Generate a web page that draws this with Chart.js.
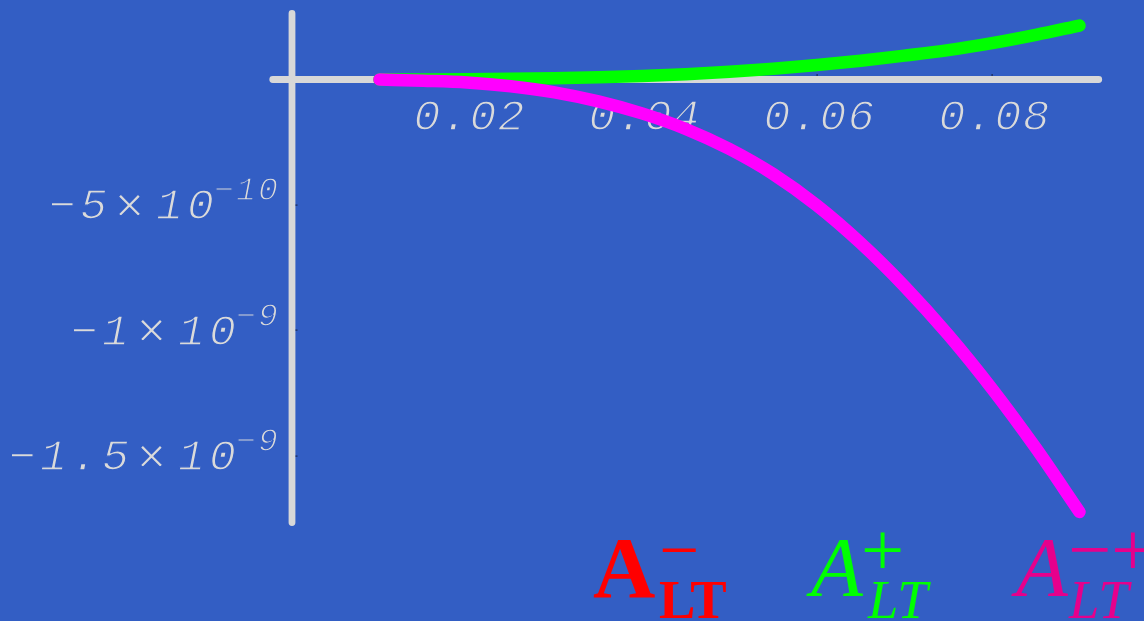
<!DOCTYPE html>
<html>
<head>
<meta charset="utf-8">
<script src="https://cdn.jsdelivr.net/npm/chart.js@4/dist/chart.umd.min.js"></script>
<style>
  html, body { margin: 0; padding: 0; background: #335EC4; overflow: hidden; }
  #wrap { width: 1144px; height: 621px; position: relative; }
  canvas { display: block; }
</style>
</head>
<body>
<div id="wrap"><canvas id="chart" width="1144" height="621"></canvas></div>
<script>
// Sample points of the two asymmetries
const xValues = [0.010, 0.015, 0.020, 0.025, 0.030, 0.035, 0.040, 0.045, 0.050,
                 0.055, 0.060, 0.065, 0.070, 0.075, 0.080, 0.085, 0.090];
const aLTPlus = [0, 0.0003e-9, 0.001e-9, 0.0025e-9, 0.005e-9, 0.009e-9, 0.014e-9, 0.021e-9, 0.031e-9,
                 0.043e-9, 0.058e-9, 0.075e-9, 0.095e-9, 0.117e-9, 0.145e-9, 0.178e-9, 0.215e-9];
const aLTMinusPlus = [0, -0.005e-9, -0.012e-9, -0.027e-9, -0.051e-9, -0.087e-9, -0.135e-9, -0.197e-9, -0.277e-9,
                      -0.377e-9, -0.502e-9, -0.652e-9, -0.824e-9, -1.017e-9, -1.232e-9, -1.468e-9, -1.723e-9];

// Axis ticks
const xTicks = [0.02, 0.04, 0.06, 0.08];
const xTickLabels = ['0.02', '0.04', '0.06', '0.08'];
const yTicks = [-5e-10, -1e-9, -1.5e-9];
const yTickMantissas = ['\u22125', '\u22121', '\u22121.5'];
const yTickExponents = ['\u221210', '\u22129', '\u22129'];

// Legend formulas: symbol, superscript, subscript
const legendSymbols = ['A', 'A', 'A'];
const legendSups = ['\u2212', '+', '\u2212+'];
const legendSubs = ['LT', 'LT', 'LT'];

// Plot range and drawn axis extents
const X_RANGE = [-0.033371, 0.097371];
const Y_RANGE = [-2.1574e-9, 3.1673e-10];
const X_AXIS_SPAN = [-0.0022, 0.0922];
const Y_AXIS_SPAN = [-1.765e-9, 0.263e-9];

const COLORS = {
  background: '#335EC4',
  axis: '#D8D8D8',
  tickText: '#DADADA',
  tickMark: '#1a2a55',
  plus: '#00FF00',
  minusPlus: '#FF00FF',
  legend: ['#FF0000', '#00FF00', '#E6008C']
};

const MONO = '"Liberation Mono", "DejaVu Sans Mono", monospace';
const SERIF = '"Liberation Serif", "DejaVu Serif", serif';

function sizeForInk(ctx, style, family, sample, ink, useWidth) {
  ctx.font = style + ' 100px ' + family;
  const m = ctx.measureText(sample);
  const dim = useWidth ? (m.actualBoundingBoxLeft + m.actualBoundingBoxRight)
                       : (m.actualBoundingBoxAscent + m.actualBoundingBoxDescent);
  return 100 * ink / dim;
}

// Draw text so its ink box starts at (left, top)
function drawInk(ctx, text, font, left, top) {
  ctx.font = font;
  ctx.textAlign = 'left';
  ctx.textBaseline = 'alphabetic';
  const m = ctx.measureText(text);
  ctx.fillText(text, left + m.actualBoundingBoxLeft, top + m.actualBoundingBoxAscent);
}

// Light-weight glyph: fill, then shave the outline with the background colour
function thinText(ctx, ch, x, y) {
  ctx.fillText(ch, x, y);
  ctx.save();
  ctx.strokeStyle = COLORS.background;
  ctx.lineWidth = 1.3;
  ctx.lineJoin = 'round';
  ctx.strokeText(ch, x, y);
  ctx.restore();
}

// Draw text one character per fixed-width cell
function drawCells(ctx, text, startX, baseline, advance) {
  ctx.textAlign = 'center';
  ctx.textBaseline = 'alphabetic';
  for (let i = 0; i < text.length; i++) {
    thinText(ctx, text[i], startX + (i + 0.5) * advance, baseline);
  }
}

const frame = {
  id: 'frame',
  beforeDatasetsDraw(chart) {
    const ctx = chart.ctx;
    const xs = chart.scales.x, ys = chart.scales.y;
    const x0 = xs.getPixelForValue(0), y0 = ys.getPixelForValue(0);
    ctx.save();

    // x tick labels
    ctx.fillStyle = COLORS.tickText;
    const mainSize = sizeForInk(ctx, 'italic', MONO, '0', 31);
    const supSize = sizeForInk(ctx, 'italic', MONO, '0', 23);
    const timesSize = sizeForInk(ctx, '', MONO, '\u00D7', 23, true);
    ctx.font = 'italic ' + mainSize.toFixed(2) + 'px ' + MONO;
    const xAdv = 28;
    xTicks.forEach((v, i) => {
      const label = xTickLabels[i];
      const px = xs.getPixelForValue(v);
      drawCells(ctx, label, px + 2 - label.length * xAdv / 2, y0 + 51, xAdv);
    });

    // y tick labels:  mantissa × 10^exponent, right-aligned next to the axis
    const yAdv = 31, supAdv = 22, timesCell = 45, rightEdge = x0 - 13;
    yTicks.forEach((v, i) => {
      const py = ys.getPixelForValue(v);
      const mant = yTickMantissas[i], exp = yTickExponents[i];
      const expStart = rightEdge - exp.length * supAdv;
      const tenStart = expStart + 3 - 2 * yAdv;
      const timesStart = tenStart - timesCell;
      const mantStart = timesStart - mant.length * yAdv;
      ctx.font = 'italic ' + mainSize.toFixed(2) + 'px ' + MONO;
      drawCells(ctx, mant, mantStart, py + 14.5, yAdv);
      drawCells(ctx, '10', tenStart, py + 14.5, yAdv);
      // multiplication sign centred on the tick
      ctx.font = timesSize.toFixed(2) + 'px ' + MONO;
      ctx.textAlign = 'center';
      ctx.textBaseline = 'alphabetic';
      const tm = ctx.measureText('\u00D7');
      const tMid = (tm.actualBoundingBoxAscent - tm.actualBoundingBoxDescent) / 2;
      thinText(ctx, '\u00D7', timesStart + timesCell / 2 - 2, py + 0.5 + tMid);
      ctx.font = 'italic ' + supSize.toFixed(2) + 'px ' + MONO;
      drawCells(ctx, exp, expStart, py - 4.5, supAdv);
    });

    // axes
    ctx.strokeStyle = COLORS.axis;
    ctx.lineWidth = 6.8;
    ctx.lineCap = 'round';
    ctx.beginPath();
    ctx.moveTo(xs.getPixelForValue(X_AXIS_SPAN[0]), y0);
    ctx.lineTo(xs.getPixelForValue(X_AXIS_SPAN[1]), y0);
    ctx.moveTo(x0, ys.getPixelForValue(Y_AXIS_SPAN[1]));
    ctx.lineTo(x0, ys.getPixelForValue(Y_AXIS_SPAN[0]));
    ctx.stroke();

    // small tick marks
    ctx.fillStyle = COLORS.tickMark;
    xTicks.forEach(v => {
      const px = Math.round(xs.getPixelForValue(v));
      ctx.fillRect(px - 0.5, y0 - 5.5, 1.2, 2);
    });
    yTicks.forEach(v => {
      const py = Math.round(ys.getPixelForValue(v));
      ctx.fillRect(x0 + 3.5, py - 0.5, 2, 1.2);
    });
    ctx.restore();
  },
  afterDraw(chart) {
    const ctx = chart.ctx;
    ctx.save();
    const boldA = sizeForInk(ctx, 'bold', SERIF, 'A', 57);
    const italA = sizeForInk(ctx, 'italic', SERIF, 'A', 56);
    const boldSub = sizeForInk(ctx, 'bold', SERIF, 'LT', 36);
    const italSub = sizeForInk(ctx, 'italic', SERIF, 'LT', 36);
    const plusSize = sizeForInk(ctx, '', SERIF, '+', 36);
    const minusSize = sizeForInk(ctx, '', SERIF, '\u2212', 34, true);

    const groups = [
      { a: [593, 540], sup: [662, 547.5], sub: [659, 582], bold: true },
      { a: [806, 540], sup: [864, 532], sub: [867, 582], bold: false },
      { a: [1011, 540], sup: [1071, 532], sub: [1068, 582], bold: false }
    ];
    groups.forEach((g, i) => {
      ctx.fillStyle = COLORS.legend[i];
      const aFont = g.bold ? 'bold ' + boldA.toFixed(2) + 'px ' + SERIF
                           : 'italic ' + italA.toFixed(2) + 'px ' + SERIF;
      const subFont = g.bold ? 'bold ' + boldSub.toFixed(2) + 'px ' + SERIF
                             : 'italic ' + italSub.toFixed(2) + 'px ' + SERIF;
      const supText = legendSups[i];
      const supFont = (supText === '\u2212' ? minusSize : plusSize).toFixed(2) + 'px ' + SERIF;
      drawInk(ctx, legendSymbols[i], aFont, g.a[0], g.a[1]);
      drawInk(ctx, supText, supFont, g.sup[0], g.sup[1]);
      drawInk(ctx, legendSubs[i], subFont, g.sub[0], g.sub[1]);
    });
    ctx.restore();
  }
};

const ctx = document.getElementById('chart').getContext('2d');
new Chart(ctx, {
  type: 'line',
  data: {
    datasets: [
      {
        label: 'A_LT^{-+}',
        data: xValues.map((x, i) => ({ x: x, y: aLTMinusPlus[i] })),
        borderColor: COLORS.minusPlus,
        borderWidth: 12.5,
        order: 0
      },
      {
        label: 'A_LT^{+}',
        data: xValues.map((x, i) => ({ x: x, y: aLTPlus[i] })),
        borderColor: COLORS.plus,
        borderWidth: 12.5,
        order: 1
      }
    ]
  },
  options: {
    responsive: false,
    animation: false,
    devicePixelRatio: 1,
    layout: { padding: 0 },
    elements: {
      point: { radius: 0, hoverRadius: 0 },
      line: {
        borderCapStyle: 'round',
        borderJoinStyle: 'round',
        cubicInterpolationMode: 'monotone',
        fill: false
      }
    },
    plugins: { legend: { display: false }, tooltip: { enabled: false } },
    scales: {
      x: { type: 'linear', display: false, min: X_RANGE[0], max: X_RANGE[1] },
      y: { type: 'linear', display: false, min: Y_RANGE[0], max: Y_RANGE[1] }
    }
  },
  plugins: [frame]
});
</script>
</body>
</html>
